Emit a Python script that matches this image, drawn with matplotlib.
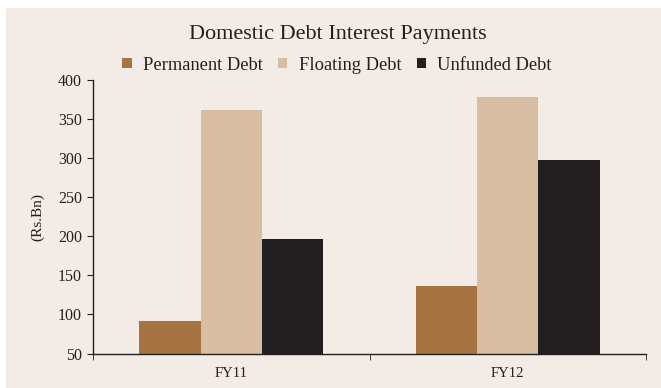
import matplotlib
matplotlib.use("Agg")
import matplotlib.pyplot as plt
import numpy as np
from matplotlib.patches import Rectangle

categories = ["FY11", "FY12"]
series_names = ["Permanent Debt", "Floating Debt", "Unfunded Debt"]
permanent = [92, 136]
floating = [362, 378]
unfunded = [197, 298]
colors = ["#A67442", "#D7BDA2", "#231F20"]
yticks = [50, 100, 150, 200, 250, 300, 350, 400]

plt.rcParams["font.family"] = ["Liberation Serif", "DejaVu Serif"]

W, H = 661, 388
fig = plt.figure(figsize=(W / 100, H / 100), dpi=100)
fig.patch.set_facecolor("white")
bg = "#F3ECE6"
fig.patches.append(Rectangle((6 / W, 0), 1 - 6 / W, 1 - 8 / H,
                             transform=fig.transFigure, facecolor=bg,
                             edgecolor="none", zorder=-10))

left, right, bottom, top = 93 / W, 646 / W, 1 - 353.5 / H, 1 - 80 / H
ax = fig.add_axes([left, bottom, right - left, top - bottom])
ax.set_facecolor("none")

x = np.arange(len(categories))
bw = 0.222
for i, (vals, name, c) in enumerate(zip([permanent, floating, unfunded], series_names, colors)):
    ax.bar(x + (i - 1) * bw, np.array(vals) - 50, bottom=50, width=bw,
           color=c, label=name, zorder=2)

ax.set_xlim(-0.5, 1.5)
ax.set_ylim(50, 400)
ax.set_yticks(yticks)
ax.set_yticklabels([str(v) for v in yticks], fontsize=11.5, color="#231F20")
ax.set_xticks(x)
ax.set_xticklabels(categories, fontsize=10.5, color="#231F20")
ax.tick_params(axis="x", length=0, pad=10)
ax.set_xticks([-0.5, 0.5, 1.5], minor=True)
ax.tick_params(axis="x", which="minor", length=4, direction="out", color="#231F20")
ax.tick_params(axis="y", length=4, direction="out", color="#231F20", pad=4)
for s in ["top", "right"]:
    ax.spines[s].set_visible(False)
for s in ["left", "bottom"]:
    ax.spines[s].set_color("#231F20")
    ax.spines[s].set_linewidth(1.0)

ax.set_ylabel("(Rs.Bn)", fontsize=11, color="#231F20", labelpad=10)

fig.text(338 / W, 1 - 35 / H, "Domestic Debt Interest Payments", ha="center",
         va="center", fontsize=16, color="#231F20")
fig.legend(loc="center", bbox_to_anchor=(337 / W, 1 - 65 / H), ncol=3,
           frameon=False, fontsize=13.3, handlelength=0.5, handleheight=0.5,
           handletextpad=0.6, columnspacing=0.85, labelcolor="#231F20")

fig.savefig("out.png", dpi=100, facecolor="white")
